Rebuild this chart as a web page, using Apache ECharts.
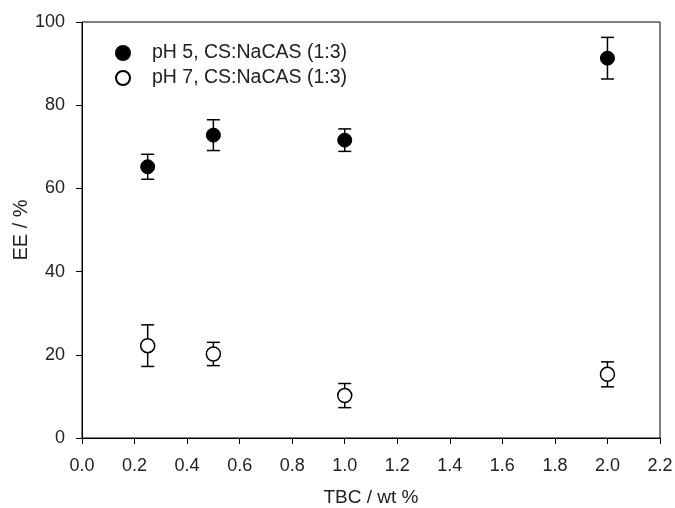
<!DOCTYPE html>
<html>
<head>
<meta charset="utf-8">
<script src="https://cdn.jsdelivr.net/npm/echarts@6/dist/echarts.min.js"></script>
<style>html,body{margin:0;padding:0;background:#fff}#c{width:675px;height:508px}</style>
</head>
<body>
<div id="c"></div>
<script>
var xValues = [0.25, 0.5, 1.0, 2.0];
var ph5Mean = [65.2, 72.8, 71.6, 91.3];
var ph5Err = [3.0, 3.7, 2.7, 5.0];
var ph7Mean = [22.2, 20.2, 10.2, 15.3];
var ph7Err = [5.0, 2.8, 2.9, 3.0];
var xTicks = [0.0,0.2,0.4,0.6,0.8,1.0,1.2,1.4,1.6,1.8,2.0,2.2];
var seriesNames = ['pH 5, CS:NaCAS (1:3)', 'pH 7, CS:NaCAS (1:3)'];

var FONT = 'Liberation Sans, Arial, sans-serif';
function pts(mean){ return xValues.map(function(x,i){return [x, mean[i]];}); }
function errData(mean, err){ return xValues.map(function(x,i){return [x, mean[i]-err[i], mean[i]+err[i]];}); }
function errRender(params, api){
  var x = api.value(0);
  var lo = api.coord([x, api.value(1)]);
  var hi = api.coord([x, api.value(2)]);
  var hw = 6.5;
  var st = {stroke:'#000', lineWidth:1.5};
  return {type:'group', children:[
    {type:'line', shape:{x1:lo[0],y1:lo[1],x2:hi[0],y2:hi[1]}, style:st},
    {type:'line', shape:{x1:lo[0]-hw,y1:lo[1],x2:lo[0]+hw,y2:lo[1]}, style:st},
    {type:'line', shape:{x1:hi[0]-hw,y1:hi[1],x2:hi[0]+hw,y2:hi[1]}, style:st}
  ]};
}
var chart = echarts.init(document.getElementById('c'));
chart.setOption({
  animation:false,
  backgroundColor:'#fff',
  grid:{left:82, right:15, top:22, bottom:70, show:true, borderColor:'#000', borderWidth:1,
    containLabel:false, outerBoundsMode:'none'},
  legend:{
    orient:'vertical', left:110, top:38, itemWidth:14, itemHeight:14, itemGap:5,
    data:[{name:seriesNames[0], icon:'circle'},{name:seriesNames[1], icon:'circle'}],
    textStyle:{fontFamily:FONT, fontSize:19.5, color:'#222', padding:[0,0,0,17]}
  },
  xAxis:{
    type:'value', min:0, max:2.2, interval:0.2,
    name:'TBC / wt %', nameLocation:'middle', nameGap:50, nameMoveOverlap:false,
    nameTextStyle:{fontFamily:FONT, fontSize:19, color:'#222'},
    axisLine:{lineStyle:{color:'#000', width:1}},
    axisTick:{show:true, length:6, lineStyle:{color:'#000'}},
    splitLine:{show:false},
    axisLabel:{fontFamily:FONT, fontSize:18, color:'#222', margin:19,
      formatter:function(v){ return v.toFixed(1); }}
  },
  yAxis:{
    type:'value', min:0, max:100, interval:20,
    name:'EE / %', nameLocation:'middle', nameGap:51, nameMoveOverlap:false,
    nameTextStyle:{fontFamily:FONT, fontSize:20, color:'#222'},
    axisLine:{lineStyle:{color:'#000', width:1}},
    axisTick:{show:true, length:6, lineStyle:{color:'#000'}},
    splitLine:{show:false},
    axisLabel:{fontFamily:FONT, fontSize:18, color:'#222', margin:17}
  },
  series:[
    {type:'custom', renderItem:errRender, data:errData(ph5Mean, ph5Err), z:1, silent:true},
    {type:'custom', renderItem:errRender, data:errData(ph7Mean, ph7Err), z:1, silent:true},
    {name:seriesNames[0], type:'scatter', data:pts(ph5Mean), symbol:'circle', symbolSize:14, z:3,
      itemStyle:{color:'#000', borderColor:'#000', borderWidth:1, opacity:1}},
    {name:seriesNames[1], type:'scatter', data:pts(ph7Mean), symbol:'circle', symbolSize:14, z:3,
      itemStyle:{color:'#fff', borderColor:'#000', borderWidth:1.5, opacity:1}}
  ]
});
</script>
</body>
</html>
